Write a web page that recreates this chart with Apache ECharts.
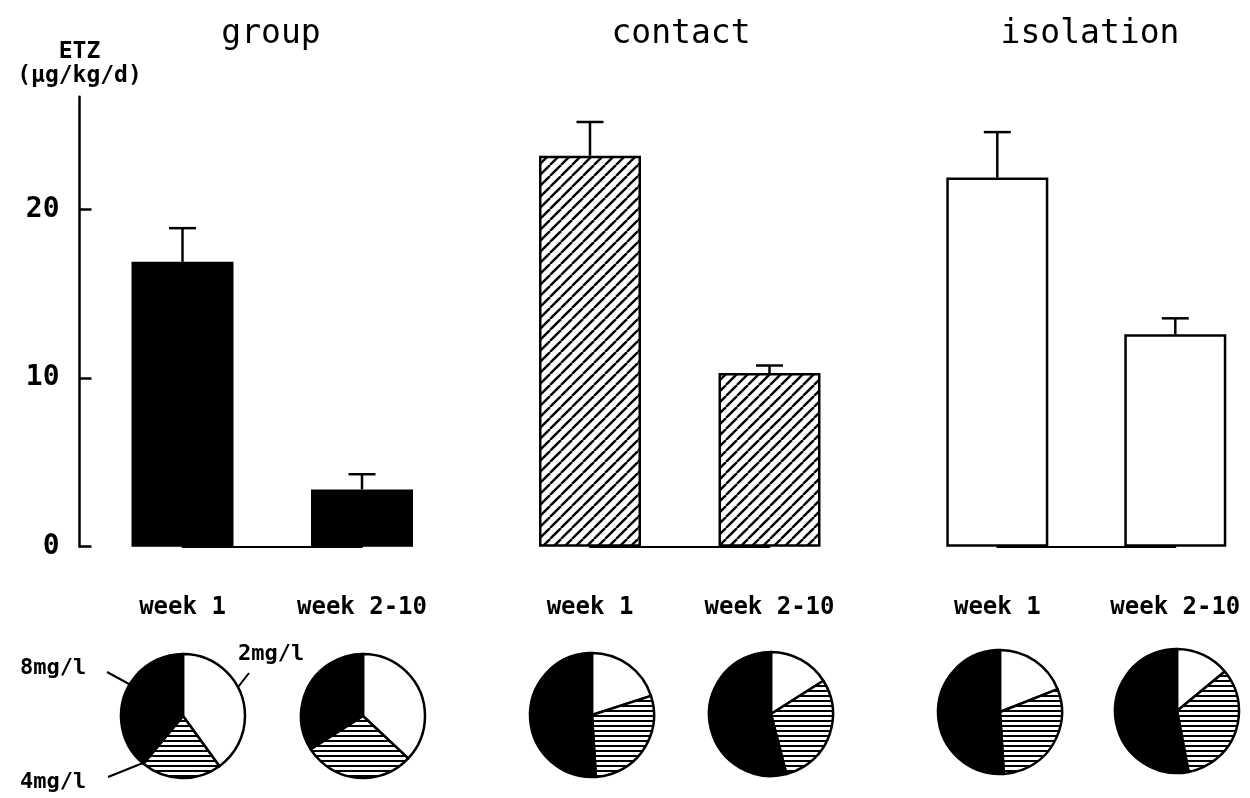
<!DOCTYPE html>
<html>
<head>
<meta charset="utf-8">
<script src="https://cdn.jsdelivr.net/npm/echarts@6/dist/echarts.min.js"></script>
<style>
  html, body { margin: 0; padding: 0; background: #fff; }
  #chart { width: 1250px; height: 798px; }
</style>
</head>
<body>
<div id="chart"></div>
<script>
// ETZ intake per housing condition, week 1 vs. weeks 2-10
const categories = ['week 1', 'week 2-10'];
const panelTitles = ['group', 'contact', 'isolation'];

const groupMean = [16.9, 3.4];
const groupSem = [2.0, 0.9];
const contactMean = [23.2, 10.3];
const contactSem = [2.0, 0.45];
const isolationMean = [21.9, 12.6];
const isolationSem = [2.7, 0.95];

// concentration choice shares (%), order: 2mg/l, 4mg/l, 8mg/l
const doseLabels = ['2mg/l', '4mg/l', '8mg/l'];
const groupWeek1Share = [40, 21, 39];
const groupWeek2Share = [37, 29, 34];
const contactWeek1Share = [20, 29, 51];
const contactWeek2Share = [16, 30, 54];
const isolationWeek1Share = [19, 30, 51];
const isolationWeek2Share = [14, 33, 53];

const yTicks = [0, 10, 20];

// fill textures
function diagonalHatch() {
  const s = 11, c = document.createElement('canvas');
  c.width = s; c.height = s;
  const g = c.getContext('2d');
  g.fillStyle = '#fff'; g.fillRect(0, 0, s, s);
  g.strokeStyle = '#000'; g.lineWidth = 2.4;
  for (const k of [-s, 0, s]) {
    g.beginPath(); g.moveTo(k, s); g.lineTo(k + s, 0); g.stroke();
  }
  return { image: c, repeat: 'repeat' };
}
function horizontalHatch() {
  const c = document.createElement('canvas');
  c.width = 8; c.height = 5;
  const g = c.getContext('2d');
  g.fillStyle = '#fff'; g.fillRect(0, 0, 8, 5);
  g.fillStyle = '#000'; g.fillRect(0, 0, 8, 2);
  return { image: c, repeat: 'repeat' };
}
const diag = diagonalHatch();
const horiz = horizontalHatch();

const MONO = '"DejaVu Sans Mono", "Liberation Mono", monospace';
const Y_MAX = 26.7;

const panels = [
  { mean: groupMean, sem: groupSem, fill: '#000', left: 182.5, width: 179.5, titleX: 266 },
  { mean: contactMean, sem: contactSem, fill: diag, left: 590, width: 179.5, titleX: 676 },
  { mean: isolationMean, sem: isolationSem, fill: '#fff', left: 997.3, width: 178, titleX: 1085 }
];

const pies = [
  { share: groupWeek1Share, center: [183, 716] },
  { share: groupWeek2Share, center: [363, 716] },
  { share: contactWeek1Share, center: [592, 715] },
  { share: contactWeek2Share, center: [771, 714] },
  { share: isolationWeek1Share, center: [1000, 712] },
  { share: isolationWeek2Share, center: [1177, 711] }
];
const sliceFills = ['#fff', horiz, '#000'];

const grid = [], xAxis = [], yAxis = [], series = [], title = [];

panels.forEach((p, i) => {
  grid.push({ left: p.left, width: p.width, top: 96.7, bottom: 251.3 });
  title.push({
    text: panelTitles[i], left: p.titleX, top: 13, textAlign: 'center',
    textStyle: { fontFamily: MONO, fontSize: 33, fontWeight: 'normal', color: '#000' }
  });
  xAxis.push({
    type: 'category', gridIndex: i, data: categories, boundaryGap: false,
    axisLine: { show: true, lineStyle: { color: '#000', width: 2 } },
    axisTick: { show: false },
    axisLabel: { margin: 49, color: '#000', fontFamily: MONO, fontSize: 24, fontWeight: 'bold' }
  });
  const first = i === 0;
  yAxis.push({
    type: 'value', gridIndex: i, min: 0, max: Y_MAX, interval: 10,
    show: first,
    offset: first ? 103 : 0,
    name: first ? 'ETZ\n(µg/kg/d)' : '',
    nameLocation: 'end', nameGap: 9,
    nameTextStyle: { fontFamily: MONO, fontSize: 23, fontWeight: 'bold', color: '#000',
      align: 'center', verticalAlign: 'bottom', lineHeight: 24 },
    axisLine: { show: first, lineStyle: { color: '#000', width: 2.5 } },
    axisTick: { show: first, inside: true, length: 12, customValues: yTicks,
      lineStyle: { color: '#000', width: 2.5 } },
    axisLabel: {
      show: first, margin: 20, color: '#000', fontFamily: MONO, fontSize: 28, fontWeight: 'bold',
      customValues: yTicks
    },
    splitLine: { show: false }
  });
  series.push({
    type: 'bar', xAxisIndex: i, yAxisIndex: i, data: p.mean, barWidth: 102, clip: false,
    itemStyle: { color: p.fill, borderColor: '#000', borderWidth: 2.5 },
    silent: true, z: 3
  });
  series.push({
    type: 'custom', xAxisIndex: i, yAxisIndex: i, clip: false, z: 4,
    data: p.mean.map((m, k) => [k, m, m + p.sem[k]]),
    renderItem: (params, api) => {
      const base = api.coord([api.value(0), api.value(1)]);
      const top = api.coord([api.value(0), api.value(2)]);
      const st = { stroke: '#000', lineWidth: 2.5 };
      return {
        type: 'group',
        children: [
          { type: 'line', shape: { x1: base[0], y1: base[1], x2: top[0], y2: top[1] }, style: st },
          { type: 'line', shape: { x1: top[0] - 13.5, y1: top[1], x2: top[0] + 13.5, y2: top[1] }, style: st }
        ]
      };
    }
  });
});

pies.forEach(p => {
  series.push({
    type: 'pie', center: p.center, radius: 62, startAngle: 90, clockwise: true,
    silent: true, label: { show: false }, labelLine: { show: false },
    emphasis: { disabled: true },
    data: p.share.map((v, k) => ({
      name: doseLabels[k], value: v,
      itemStyle: { color: sliceFills[k], borderColor: '#000', borderWidth: 2.5 }
    }))
  });
});

// dose key next to the first pie
const keyFont = { fontFamily: MONO, fontSize: 22, fontWeight: 'bold', fill: '#000' };
const lead = { stroke: '#000', lineWidth: 2 };
const graphic = [
  { type: 'text', left: 20, top: 657, style: Object.assign({ text: doseLabels[2] }, keyFont) },
  { type: 'line', shape: { x1: 107, y1: 672, x2: 129, y2: 684 }, style: lead },
  { type: 'text', left: 238, top: 643, style: Object.assign({ text: doseLabels[0] }, keyFont) },
  { type: 'line', shape: { x1: 228, y1: 700, x2: 249, y2: 673 }, style: lead },
  { type: 'text', left: 20, top: 771, style: Object.assign({ text: doseLabels[1] }, keyFont) },
  { type: 'line', shape: { x1: 108, y1: 777, x2: 143, y2: 763 }, style: lead }
];

const chart = echarts.init(document.getElementById('chart'), null, { renderer: 'canvas' });
chart.setOption({
  backgroundColor: '#fff',
  animation: false,
  title, grid, xAxis, yAxis, series, graphic
});
</script>
</body>
</html>
